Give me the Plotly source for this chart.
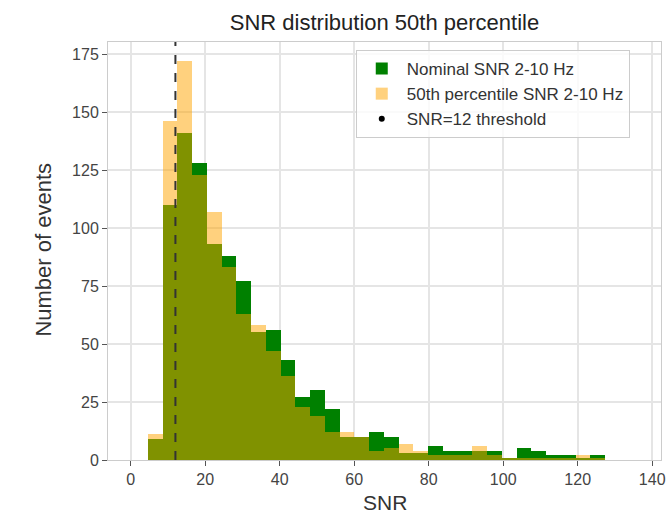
import numpy as np
import plotly.graph_objects as go

# histogram bin edges (SNR)
bin_edges = [4.60, 8.56, 12.52, 16.48, 20.44, 24.40, 28.36, 32.32, 36.28, 40.24,
             44.20, 48.16, 52.12, 56.08, 60.04, 64.00, 67.96, 71.92, 75.88, 79.84,
             83.80, 87.76, 91.72, 95.68, 99.64, 103.60, 107.56, 111.52, 115.48,
             119.44, 123.40, 127.36]

nominal_counts = [9, 110, 141, 128, 93, 88, 77, 55, 56, 43, 27, 30, 22, 10, 10,
                  12, 10, 3, 3, 6, 4, 4, 4, 4, 1, 5, 4, 2, 2, 1, 2]
p50_counts = [11, 146, 172, 123, 107, 83, 63, 58, 47, 36, 23, 19, 12, 12, 10,
              4, 5, 7, 4, 2, 2, 2, 6, 2, 1, 1, 1, 1, 1, 2, 1]

threshold = 12

x_ticks = [0, 20, 40, 60, 80, 100, 120, 140]
y_ticks = [0, 25, 50, 75, 100, 125, 150, 175]

edges = np.array(bin_edges)
centers = (edges[:-1] + edges[1:]) / 2
widths = np.diff(edges)

FONT = "Liberation Sans, Arial, sans-serif"

fig = go.Figure()
fig.add_trace(go.Bar(x=centers, y=nominal_counts, width=widths,
                     marker=dict(color="#008000", line=dict(width=0)),
                     name="Nominal SNR 2-10 Hz"))
fig.add_trace(go.Bar(x=centers, y=p50_counts, width=widths,
                     marker=dict(color="#FFA500", line=dict(width=0)),
                     opacity=0.5,
                     name="50th percentile SNR 2-10 Hz"))
# legend entry for threshold
fig.add_trace(go.Scatter(x=[None], y=[None], mode="markers",
                         marker=dict(color="black", size=6, symbol="circle"),
                         name="SNR=12 threshold"))

fig.add_shape(type="line", xref="x", yref="paper", x0=threshold, x1=threshold,
              y0=0, y1=1, line=dict(color="#333333", width=2, dash="dash"))

W, H = 666, 520
ml, mr, mt, mb = 108, 0, 42, 60
ph = H - mt - mb
pw = W - ml - mr

fig.update_layout(
    width=W, height=H,
    margin=dict(l=ml, r=mr, t=mt, b=mb),
    barmode="overlay", bargap=0,
    plot_bgcolor="white", paper_bgcolor="white",
    font=dict(family=FONT, color="#333333"),
    title=dict(text="SNR distribution 50th percentile",
               x=0.5, xref="paper", xanchor="center",
               y=1 - 22 / H, yref="container", yanchor="middle",
               font=dict(size=22, color="#222222")),
    legend=dict(x=(358 - ml) / pw, y=(460 - 50) / ph, xanchor="left", yanchor="top",
                bgcolor="rgba(255,255,255,0.8)", bordercolor="#cccccc", borderwidth=1,
                font=dict(size=17, color="#333333"), itemwidth=40,
                tracegroupgap=0),
    xaxis=dict(range=[-6.1, (666 - 131) / 3.758], tickvals=x_ticks,
               showgrid=True, gridcolor="#e5e5e5", gridwidth=1.5,
               zeroline=False, showline=True, linecolor="#cccccc", linewidth=1,
               mirror=True, ticks="outside", ticklen=5, tickcolor="#555555",
               ticklabeloverflow="allow",
               tickfont=dict(size=16, color="#444444")),
    yaxis=dict(range=[0, 180.2], tickvals=y_ticks,
               showgrid=True, gridcolor="#e5e5e5", gridwidth=1.5,
               zeroline=False, showline=True, linecolor="#cccccc", linewidth=1,
               mirror=True, ticks="outside", ticklen=5, tickcolor="#555555",
               tickfont=dict(size=16, color="#444444")),
    annotations=[
        dict(text="SNR", xref="paper", yref="paper", x=0.5, y=(460 - 502) / ph,
             xanchor="center", yanchor="middle", showarrow=False,
             font=dict(size=21, color="#333333")),
        dict(text="Number of events", xref="paper", yref="paper",
             x=(42 - ml) / pw, y=(460 - 250) / ph, textangle=-90,
             xanchor="center", yanchor="middle", showarrow=False,
             font=dict(size=22, color="#333333")),
    ],
)

fig.write_html("out.html")
